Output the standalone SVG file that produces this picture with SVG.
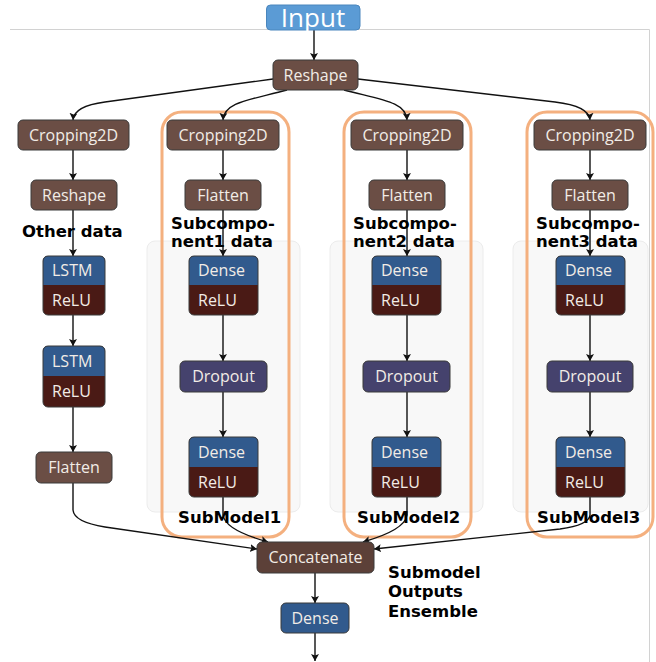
<svg xmlns="http://www.w3.org/2000/svg" width="656" height="662" viewBox="0 0 656 662">
<defs>
<marker id="ah" markerUnits="userSpaceOnUse" markerWidth="10" markerHeight="10" refX="7" refY="4" orient="auto">
<path d="M0,0 L7,4 L0,8 L1.5,4 Z" fill="#111"/>
</marker>
<style>
.n{stroke:#3a3a3a;stroke-width:1}
.br{fill:#6b4e45}
.cc{fill:#5c4038}
.bl{fill:#315a8d}
.rl{fill:#4a1a15}
.dp{fill:#45426d}
.t{font-family:"Open Sans","DejaVu Sans",sans-serif;font-size:16px;fill:#f2ece6}
.m{text-anchor:middle}
.lb{font-family:"DejaVu Sans",sans-serif;font-weight:bold;font-size:16.5px;fill:#000}
.c{fill:none;stroke:#111;stroke-width:1.4;marker-end:url(#ah)}
.grp{fill:none;stroke:#f4b07f;stroke-width:3}
.pan{fill:#f8f8f8;stroke:#ececec;stroke-width:1}
</style>
</defs>
<rect width="656" height="662" fill="#fff"/>
<path d="M10,29.5 H649.5 V662" fill="none" stroke="#d2d2d2" stroke-width="1"/>

<g id="panels">
<rect class="pan" x="147" y="241" width="153" height="271" rx="8"/>
<rect class="pan" x="330" y="241" width="153" height="271" rx="8"/>
<rect class="pan" x="513" y="241" width="135" height="271" rx="8"/>
</g>

<g id="submodel1"><rect class="grp" x="162" y="112" width="127" height="425" rx="20"/></g>
<g id="submodel2"><rect class="grp" x="344" y="112" width="127" height="425" rx="20"/></g>
<g id="submodel3"><rect class="grp" x="527" y="112" width="126" height="425" rx="20"/></g>

<g id="connectors">
<path class="c" d="M314,30 V60"/>
<path class="c" d="M273,79 L105,102 Q74,106 73,120"/>
<path class="c" d="M287,90 C250,100 224,102 223,120"/>
<path class="c" d="M344,90 C382,100 406,102 407,120"/>
<path class="c" d="M358,79 L555,102 Q589,106 590,120"/>
<path class="c" d="M73,150 V180"/>
<path class="c" d="M73,210 V256"/>
<path class="c" d="M73,315 V346"/>
<path class="c" d="M73,407 V452"/>
<path class="c" d="M73,483 V510 Q74,522 105,527 L257,549"/>
<path class="c" d="M223,150 V180"/>
<path class="c" d="M223,210 V256"/>
<path class="c" d="M223,315 V361"/>
<path class="c" d="M223,392 V437"/>
<path class="c" d="M223,497 V515 Q225,530 268,542"/>
<path class="c" d="M407,150 V180"/>
<path class="c" d="M407,210 V256"/>
<path class="c" d="M407,315 V361"/>
<path class="c" d="M407,392 V437"/>
<path class="c" d="M407,497 V515 Q405,530 363,542"/>
<path class="c" d="M590,150 V180"/>
<path class="c" d="M590,210 V256"/>
<path class="c" d="M590,315 V361"/>
<path class="c" d="M590,392 V437"/>
<path class="c" d="M590,497 V515 Q589,525 560,529 L374,549"/>
<path class="c" d="M315,573 V603"/>
<path class="c" d="M315,633 V661"/>
</g>

<g id="input"><rect x="266.5" y="5" width="93.5" height="25" rx="4" fill="#5b9bd5" stroke="#4a86bd"/><text class="t m" x="313" y="27" style="font-size:26px;fill:#fff">Input</text></g>
<g id="reshape_top"><rect class="n br" x="273" y="60" width="85" height="30" rx="5"/><text class="t m" x="315.5" y="81">Reshape</text></g>

<g id="crop0"><rect class="n br" x="18" y="120" width="111" height="30" rx="5"/><text class="t m" x="73.5" y="141">Cropping2D</text></g>
<g id="crop1"><rect class="n br" x="167" y="120" width="112" height="30" rx="5"/><text class="t m" x="223" y="141">Cropping2D</text></g>
<g id="crop2"><rect class="n br" x="351" y="120" width="112" height="30" rx="5"/><text class="t m" x="407" y="141">Cropping2D</text></g>
<g id="crop3"><rect class="n br" x="534" y="120" width="112" height="30" rx="5"/><text class="t m" x="590" y="141">Cropping2D</text></g>

<g id="reshape_left"><rect class="n br" x="31" y="180" width="86" height="30" rx="5"/><text class="t m" x="74" y="201">Reshape</text></g>
<g id="flatten1"><rect class="n br" x="185" y="180" width="76" height="30" rx="5"/><text class="t m" x="223" y="201">Flatten</text></g>
<g id="flatten2"><rect class="n br" x="369" y="180" width="76" height="30" rx="5"/><text class="t m" x="407" y="201">Flatten</text></g>
<g id="flatten3"><rect class="n br" x="552" y="180" width="76" height="30" rx="5"/><text class="t m" x="590" y="201">Flatten</text></g>

<g id="lbl_other"><text class="lb" x="22" y="237">Other data</text></g>
<g id="lbl_sub1"><text class="lb" x="171" y="229">Subcompo-</text><text class="lb" x="171" y="247">nent1 data</text></g>
<g id="lbl_sub2"><text class="lb" x="353" y="229">Subcompo-</text><text class="lb" x="353" y="247">nent2 data</text></g>
<g id="lbl_sub3"><text class="lb" x="536" y="229">Subcompo-</text><text class="lb" x="536" y="247">nent3 data</text></g>

<g id="lstm1"><rect class="rl" x="43" y="256" width="62" height="59" rx="5"/><path class="bl" d="M43,285 V261 Q43,256 48,256 H100 Q105,256 105,261 V285 Z"/><rect x="43" y="256" width="62" height="59" rx="5" fill="none" stroke="#3a3a3a"/><text class="t" x="52" y="276">LSTM</text><text class="t" x="52" y="306">ReLU</text></g>
<g id="lstm2"><rect class="rl" x="43" y="346" width="62" height="61" rx="5"/><path class="bl" d="M43,376 V351 Q43,346 48,346 H100 Q105,346 105,351 V376 Z"/><rect x="43" y="346" width="62" height="61" rx="5" fill="none" stroke="#3a3a3a"/><text class="t" x="52" y="367">LSTM</text><text class="t" x="52" y="397">ReLU</text></g>
<g id="flatten_left"><rect class="n br" x="36" y="452" width="76" height="31" rx="5"/><text class="t m" x="74" y="473">Flatten</text></g>

<g id="dense1a"><rect class="rl" x="189" y="256" width="69" height="59" rx="5"/><path class="bl" d="M189,285 V261 Q189,256 194,256 H253 Q258,256 258,261 V285 Z"/><rect x="189" y="256" width="69" height="59" rx="5" fill="none" stroke="#3a3a3a"/><text class="t" x="198" y="276">Dense</text><text class="t" x="198" y="306">ReLU</text></g>
<g id="dropout1"><rect class="n dp" x="180" y="361" width="87" height="31" rx="5"/><text class="t m" x="223.5" y="382">Dropout</text></g>
<g id="dense1b"><rect class="rl" x="189" y="437" width="69" height="60" rx="5"/><path class="bl" d="M189,467 V442 Q189,437 194,437 H253 Q258,437 258,442 V467 Z"/><rect x="189" y="437" width="69" height="60" rx="5" fill="none" stroke="#3a3a3a"/><text class="t" x="198" y="458">Dense</text><text class="t" x="198" y="488">ReLU</text></g>

<g id="dense2a"><rect class="rl" x="372" y="256" width="69" height="59" rx="5"/><path class="bl" d="M372,285 V261 Q372,256 377,256 H436 Q441,256 441,261 V285 Z"/><rect x="372" y="256" width="69" height="59" rx="5" fill="none" stroke="#3a3a3a"/><text class="t" x="381" y="276">Dense</text><text class="t" x="381" y="306">ReLU</text></g>
<g id="dropout2"><rect class="n dp" x="363" y="361" width="87" height="31" rx="5"/><text class="t m" x="406.5" y="382">Dropout</text></g>
<g id="dense2b"><rect class="rl" x="372" y="437" width="69" height="60" rx="5"/><path class="bl" d="M372,467 V442 Q372,437 377,437 H436 Q441,437 441,442 V467 Z"/><rect x="372" y="437" width="69" height="60" rx="5" fill="none" stroke="#3a3a3a"/><text class="t" x="381" y="458">Dense</text><text class="t" x="381" y="488">ReLU</text></g>

<g id="dense3a"><rect class="rl" x="556" y="256" width="69" height="59" rx="5"/><path class="bl" d="M556,285 V261 Q556,256 561,256 H620 Q625,256 625,261 V285 Z"/><rect x="556" y="256" width="69" height="59" rx="5" fill="none" stroke="#3a3a3a"/><text class="t" x="565" y="276">Dense</text><text class="t" x="565" y="306">ReLU</text></g>
<g id="dropout3"><rect class="n dp" x="547" y="361" width="86" height="31" rx="5"/><text class="t m" x="590" y="382">Dropout</text></g>
<g id="dense3b"><rect class="rl" x="556" y="437" width="69" height="60" rx="5"/><path class="bl" d="M556,467 V442 Q556,437 561,437 H620 Q625,437 625,442 V467 Z"/><rect x="556" y="437" width="69" height="60" rx="5" fill="none" stroke="#3a3a3a"/><text class="t" x="565" y="458">Dense</text><text class="t" x="565" y="488">ReLU</text></g>

<g id="lbl_sm1"><text class="lb" x="178" y="523">SubModel1</text></g>
<g id="lbl_sm2"><text class="lb" x="357" y="523">SubModel2</text></g>
<g id="lbl_sm3"><text class="lb" x="537" y="523">SubModel3</text></g>

<g id="concatenate"><rect class="n cc" x="257" y="542" width="117" height="31" rx="5"/><text class="t m" x="315.5" y="563">Concatenate</text></g>
<g id="dense_final"><rect class="n bl" x="281" y="603" width="68" height="30" rx="5"/><text class="t m" x="315" y="624">Dense</text></g>
<g id="lbl_ensemble"><text class="lb" x="388" y="578">Submodel</text><text class="lb" x="388" y="597">Outputs</text><text class="lb" x="388" y="617">Ensemble</text></g>
</svg>
